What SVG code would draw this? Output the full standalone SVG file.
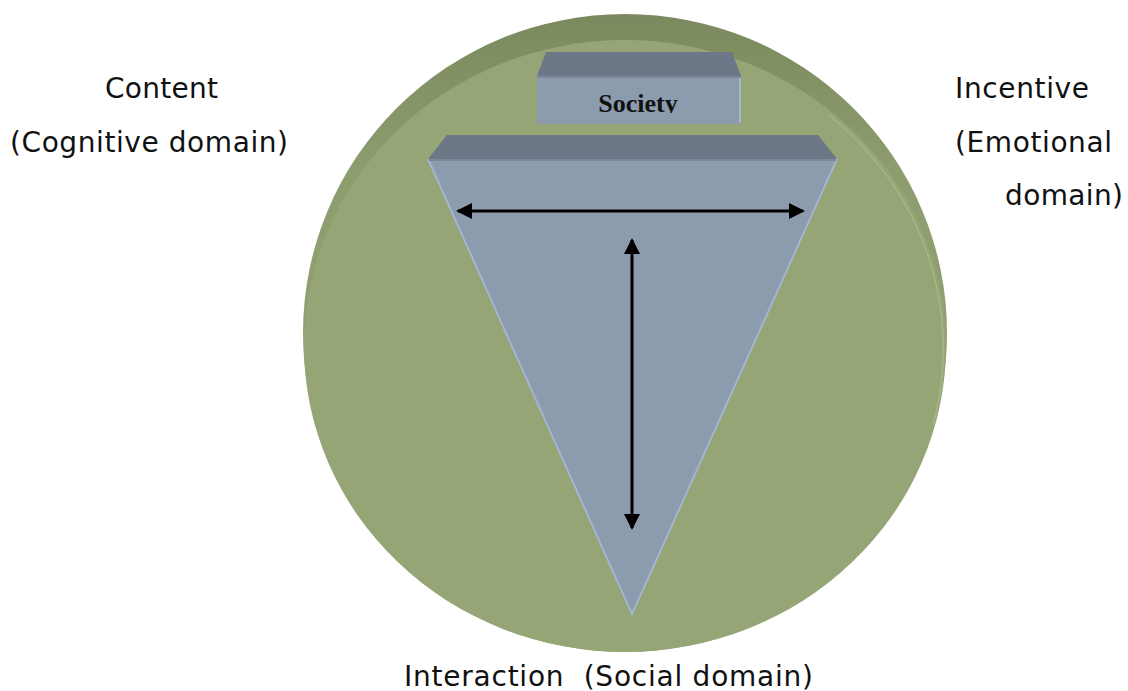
<svg xmlns="http://www.w3.org/2000/svg" width="1128" height="691" viewBox="0 0 1128 691">
  <defs>
    <style>
      .lbl { font-family: "DejaVu Sans", Verdana, sans-serif; font-size: 28px; fill: #111; }
      .soc { font-family: "Liberation Serif", "Times New Roman", serif; font-size: 26px; font-weight: bold; fill: #111; }
      .bevel { fill: #6c7888; }
      .face { fill: #8c9bae; }
      .conn { stroke: #000; stroke-width: 3; fill: none; }
    </style>
    <linearGradient id="rimGrad" x1="0" y1="0" x2="0" y2="1">
      <stop offset="0" stop-color="#7b8a5e"/>
      <stop offset="0.25" stop-color="#8d9d6e"/>
      <stop offset="1" stop-color="#95a576"/>
    </linearGradient>
    <marker id="ah" viewBox="0 0 16 16" refX="14" refY="8" markerWidth="16" markerHeight="16" markerUnits="userSpaceOnUse" orient="auto-start-reverse">
      <path d="M0,0 L16,8 L0,16 Z" fill="#000"/>
    </marker>
    <clipPath id="socClip">
      <rect x="537" y="76" width="204" height="37"/>
    </clipPath>
  </defs>

  <rect width="1128" height="691" fill="#fff"/>

  <g id="circle">
    <ellipse cx="625" cy="333" rx="322" ry="319" fill="url(#rimGrad)"/>
    <ellipse cx="625" cy="346" rx="321" ry="306" fill="#95a576"/>
    <path d="M829,115 A319,304 0 0 1 933,425" fill="none" stroke="#a5b883" stroke-width="1.5"/>
  </g>

  <g id="society">
    <polygon class="bevel" points="546,52 732,52 741,76 537,76"/>
    <rect class="face" x="537" y="76" width="204" height="48"/>
    <line x1="740" y1="77" x2="740" y2="123" stroke="#a3b5cf" stroke-width="2"/>
    <line x1="537" y1="77" x2="741" y2="77" stroke="#7d899b" stroke-width="2"/>
    <text class="soc" x="638" y="112" text-anchor="middle" clip-path="url(#socClip)">Society</text>
  </g>

  <g id="triangle">
    <polygon class="bevel" points="447,135 818,135 837,159 428,159"/>
    <polygon class="face" points="428,159 837,159 632,614"/>
    <polyline points="428,159 632,614 837,159" fill="none" stroke="#a3b5cf" stroke-width="2"/>
    <line x1="429" y1="160" x2="836" y2="160" stroke="#7d899b" stroke-width="2"/>
  </g>

  <g id="connectors">
    <line class="conn" x1="458" y1="211" x2="803" y2="211" marker-start="url(#ah)" marker-end="url(#ah)"/>
    <line class="conn" x1="632" y1="240" x2="632" y2="528" marker-start="url(#ah)" marker-end="url(#ah)"/>
  </g>

  <g id="label-content">
    <text class="lbl" x="105" y="98" textLength="113" lengthAdjust="spacing">Content</text>
    <text class="lbl" x="10" y="152" textLength="278" lengthAdjust="spacing">(Cognitive domain)</text>
  </g>

  <g id="label-incentive">
    <text class="lbl" x="955" y="98" textLength="134" lengthAdjust="spacing">Incentive</text>
    <text class="lbl" x="955" y="152" textLength="157" lengthAdjust="spacing">(Emotional</text>
    <text class="lbl" x="1005" y="205" textLength="118" lengthAdjust="spacing">domain)</text>
  </g>

  <g id="label-interaction">
    <text class="lbl" x="404" y="686" textLength="409" lengthAdjust="spacing" xml:space="preserve">Interaction  (Social domain)</text>
  </g>
</svg>
